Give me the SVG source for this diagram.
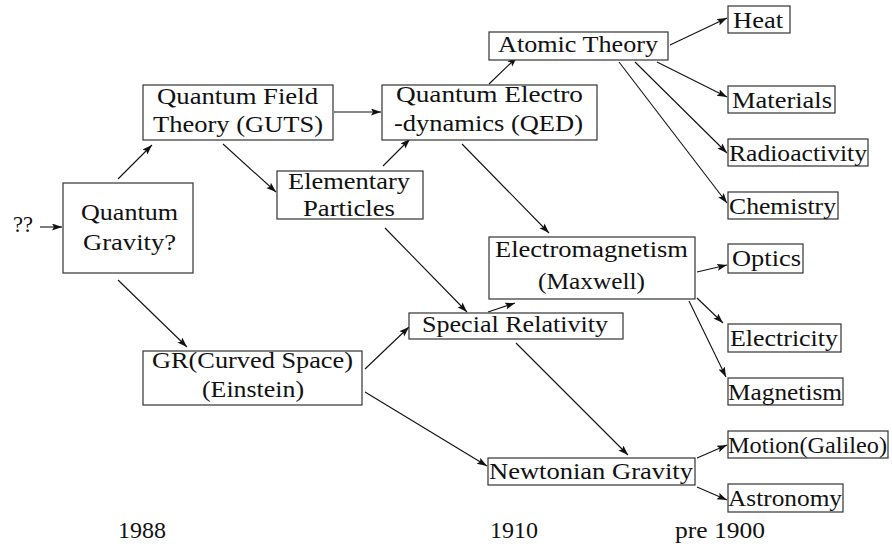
<svg xmlns="http://www.w3.org/2000/svg" width="892" height="546" viewBox="0 0 892 546">
<style>
.b{fill:#fff;stroke:#333;stroke-width:1.2}
text{font-family:'Liberation Serif','Times New Roman','DejaVu Serif','Noto Serif',Tinos,serif;font-size:23px;fill:#111}
.c line{stroke:#111;stroke-width:1.1;marker-end:url(#ah)}
</style>
<defs>
<marker id="ah" markerUnits="userSpaceOnUse" markerWidth="11" markerHeight="8" refX="10" refY="3.5" orient="auto">
<path d="M0,0 L10,3.5 L0,7 L2,3.5 z" fill="#111"/>
</marker>
</defs>
<rect width="892" height="546" fill="#fff"/>
<g class="c" id="connectors">
<line x1="40" y1="227" x2="62" y2="227"/>
<line x1="118" y1="179" x2="152" y2="145"/>
<line x1="118" y1="280" x2="187" y2="347"/>
<line x1="334" y1="112" x2="381" y2="112"/>
<line x1="223" y1="144" x2="276" y2="192"/>
<line x1="383" y1="166" x2="410" y2="139"/>
<line x1="385" y1="228" x2="467" y2="312"/>
<line x1="489" y1="84" x2="517" y2="57"/>
<line x1="462" y1="144" x2="549" y2="233"/>
<line x1="670" y1="45" x2="727" y2="18"/>
<line x1="657" y1="62" x2="727" y2="97"/>
<line x1="635" y1="62" x2="727" y2="153"/>
<line x1="619" y1="62" x2="727" y2="203"/>
<line x1="365" y1="369" x2="409" y2="327"/>
<line x1="365" y1="392" x2="487" y2="466"/>
<line x1="488" y1="312" x2="515" y2="303"/>
<line x1="516" y1="343" x2="628" y2="455"/>
<line x1="697" y1="272" x2="727" y2="265"/>
<line x1="697" y1="298" x2="723" y2="323"/>
<line x1="689" y1="301" x2="726" y2="377"/>
<line x1="697" y1="458" x2="727" y2="445"/>
<line x1="697" y1="487" x2="727" y2="500"/>
</g>
<g font-family="Liberation Serif, serif">
<g id="unknown"><text x="13" y="232" textLength="20" lengthAdjust="spacingAndGlyphs">??</text></g>
<g id="qg"><rect class="b" x="63" y="183" width="130" height="90"/>
<text x="81" y="220" textLength="97" lengthAdjust="spacingAndGlyphs">Quantum</text>
<text x="83" y="250" textLength="93" lengthAdjust="spacingAndGlyphs">Gravity?</text></g>
<g id="qft"><rect class="b" x="143" y="85" width="190" height="55"/>
<text x="157" y="104" textLength="161" lengthAdjust="spacingAndGlyphs">Quantum Field</text>
<text x="153" y="132" textLength="170" lengthAdjust="spacingAndGlyphs">Theory (GUTS)</text></g>
<g id="qed"><rect class="b" x="382" y="85" width="215" height="55"/>
<text x="396" y="102" textLength="187" lengthAdjust="spacingAndGlyphs">Quantum Electro</text>
<text x="394" y="131" textLength="189" lengthAdjust="spacingAndGlyphs">-dynamics (QED)</text></g>
<g id="atomic"><rect class="b" x="489" y="32" width="179" height="28"/>
<text x="498" y="52" textLength="160" lengthAdjust="spacingAndGlyphs">Atomic Theory</text></g>
<g id="elem"><rect class="b" x="277" y="171" width="146" height="48"/>
<text x="288" y="189" textLength="122" lengthAdjust="spacingAndGlyphs">Elementary</text>
<text x="303" y="216" textLength="92" lengthAdjust="spacingAndGlyphs">Particles</text></g>
<g id="heat"><rect class="b" x="728" y="6" width="62" height="27"/>
<text x="733" y="28" textLength="50" lengthAdjust="spacingAndGlyphs">Heat</text></g>
<g id="materials"><rect class="b" x="728" y="86" width="107" height="27"/>
<text x="732" y="108" textLength="100" lengthAdjust="spacingAndGlyphs">Materials</text></g>
<g id="radio"><rect class="b" x="728" y="139" width="140" height="27"/>
<text x="729" y="161" textLength="138" lengthAdjust="spacingAndGlyphs">Radioactivity</text></g>
<g id="chem"><rect class="b" x="728" y="192" width="110" height="27"/>
<text x="729" y="214" textLength="107" lengthAdjust="spacingAndGlyphs">Chemistry</text></g>
<g id="em"><rect class="b" x="489" y="237" width="206" height="62"/>
<text x="495" y="257" textLength="193" lengthAdjust="spacingAndGlyphs">Electromagnetism</text>
<text x="538" y="289" textLength="107" lengthAdjust="spacingAndGlyphs">(Maxwell)</text></g>
<g id="sr"><rect class="b" x="409" y="313" width="214" height="26"/>
<text x="422" y="332" textLength="186" lengthAdjust="spacingAndGlyphs">Special Relativity</text></g>
<g id="gr"><rect class="b" x="143" y="351" width="219" height="54"/>
<text x="152" y="368" textLength="201" lengthAdjust="spacingAndGlyphs">GR(Curved Space)</text>
<text x="202" y="397" textLength="102" lengthAdjust="spacingAndGlyphs">(Einstein)</text></g>
<g id="optics"><rect class="b" x="728" y="244" width="75" height="29"/>
<text x="732" y="266" textLength="69" lengthAdjust="spacingAndGlyphs">Optics</text></g>
<g id="elec"><rect class="b" x="728" y="324" width="113" height="28"/>
<text x="730" y="346" textLength="108" lengthAdjust="spacingAndGlyphs">Electricity</text></g>
<g id="mag"><rect class="b" x="728" y="378" width="115" height="27"/>
<text x="728" y="400" textLength="114" lengthAdjust="spacingAndGlyphs">Magnetism</text></g>
<g id="newton"><rect class="b" x="488" y="458" width="207" height="27"/>
<text x="489" y="479" textLength="204" lengthAdjust="spacingAndGlyphs">Newtonian Gravity</text></g>
<g id="motion"><rect class="b" x="728" y="431" width="160" height="27"/>
<text x="728" y="453" textLength="159" lengthAdjust="spacingAndGlyphs">Motion(Galileo)</text></g>
<g id="astro"><rect class="b" x="728" y="484" width="115" height="28"/>
<text x="728" y="506" textLength="114" lengthAdjust="spacingAndGlyphs">Astronomy</text></g>
<g id="years">
<text x="118" y="538" textLength="48" lengthAdjust="spacingAndGlyphs">1988</text>
<text x="490" y="538" textLength="48" lengthAdjust="spacingAndGlyphs">1910</text>
<text x="675" y="538" textLength="90" lengthAdjust="spacingAndGlyphs">pre 1900</text>
</g>
</g>
</svg>
